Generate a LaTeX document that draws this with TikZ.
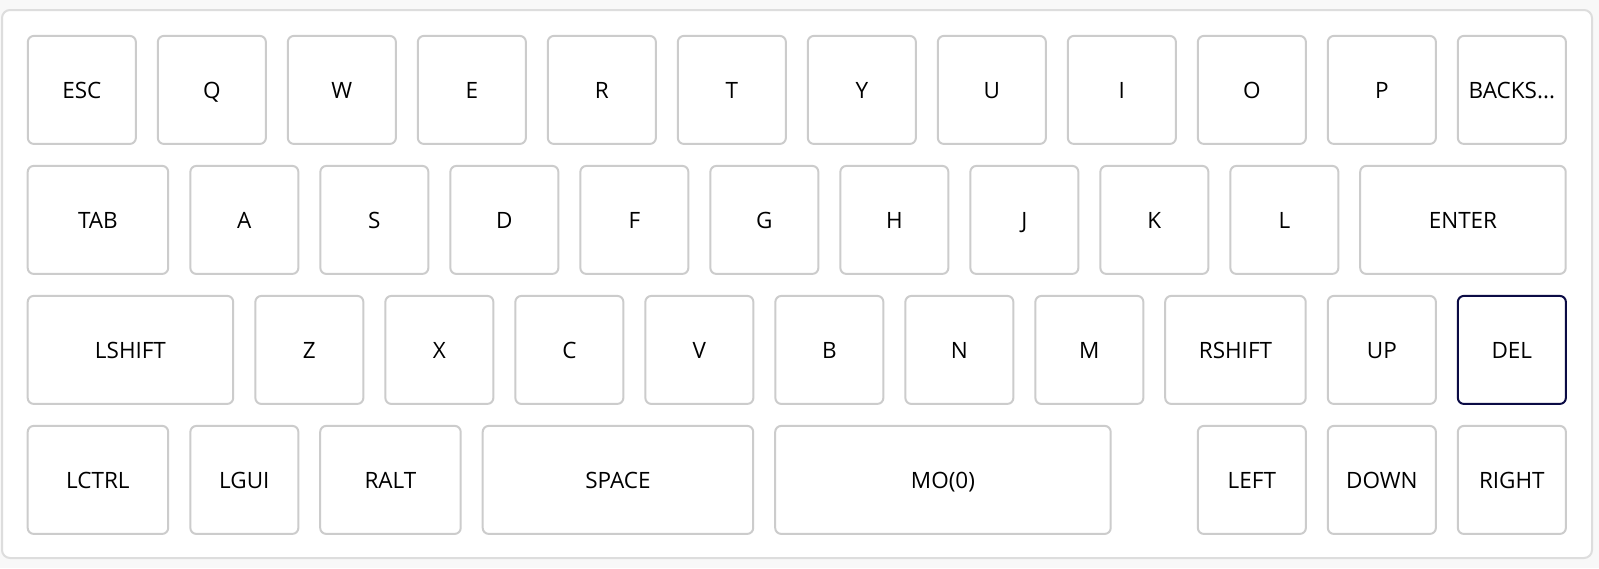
\documentclass[tikz,border=0pt]{standalone}
\usepackage{fontspec}
\setmainfont{Open Sans}
\definecolor{hgrau}{HTML}{F8F8F8}
\definecolor{rahmen}{HTML}{DDDDDD}
\definecolor{kante}{HTML}{CCCCCC}
\definecolor{aktiv}{HTML}{0B0B45}
\tikzset{
  taste/.style={draw=kante, line width=2pt, rounded corners=6pt, fill=white,
    minimum height=108pt, minimum width=108pt, inner sep=0pt,
    text height=16.5pt, text depth=-3pt,
    font=\fontsize{22.5}{26}\selectfont},
  breit/.style={minimum width=#1}
}
\begin{document}
\begin{tikzpicture}[x=1pt,y=-1pt]

% Hintergrund
\fill[hgrau] (0,0) rectangle (1599,568);
\useasboundingbox (0,0) rectangle (1599,568);
\draw[rahmen, fill=white, line width=2pt, rounded corners=8pt] (2,10) rectangle (1592,558);

%Reihe 1
\node[taste] (esc) at (81.85,89.9) {ESC};
\node[taste] (q) at (211.85,89.9) {Q};
\node[taste] (w) at (341.85,89.9) {W};
\node[taste] (e) at (471.85,89.9) {E};
\node[taste] (r) at (601.85,89.9) {R};
\node[taste] (t) at (731.85,89.9) {T};
\node[taste] (y) at (861.85,89.9) {Y};
\node[taste] (u) at (991.85,89.9) {U};
\node[taste] (i) at (1121.85,89.9) {I};
\node[taste] (o) at (1251.85,89.9) {O};
\node[taste] (p) at (1381.85,89.9) {P};
\node[taste] (bksp) at (1511.85,89.9) {BACKS...};

%Reihe 2
\node[taste, breit=140.5pt] (tab) at (97.95,219.9) {TAB};
\node[taste] (a) at (244.35,219.9) {A};
\node[taste] (s) at (374.35,219.9) {S};
\node[taste] (d) at (504.35,219.9) {D};
\node[taste] (f) at (634.35,219.9) {F};
\node[taste] (g) at (764.35,219.9) {G};
\node[taste] (h) at (894.35,219.9) {H};
\node[taste] (j) at (1024.35,219.9) {J};
\node[taste] (k) at (1154.35,219.9) {K};
\node[taste] (l) at (1284.35,219.9) {L};
\node[taste, breit=205.5pt] (enter) at (1462.95,219.9) {ENTER};

%Reihe 3
\node[taste, breit=205.5pt] (lshift) at (130.45,349.9) {LSHIFT};
\node[taste] (z) at (309.35,349.9) {Z};
\node[taste] (x) at (439.35,349.9) {X};
\node[taste] (c) at (569.35,349.9) {C};
\node[taste] (v) at (699.35,349.9) {V};
\node[taste] (b) at (829.35,349.9) {B};
\node[taste] (n) at (959.35,349.9) {N};
\node[taste] (m) at (1089.35,349.9) {M};
\node[taste, breit=140.5pt] (rshift) at (1235.45,349.9) {RSHIFT};
\node[taste] (up) at (1381.85,349.9) {UP};
\node[taste, draw=aktiv] (del) at (1511.85,349.9) {DEL};

%Reihe 4
\node[taste, breit=140.5pt] (lctrl) at (97.95,479.9) {LCTRL};
\node[taste] (lgui) at (244.35,479.9) {LGUI};
\node[taste, breit=140.5pt] (ralt) at (390.45,479.9) {RALT};
\node[taste, breit=270.5pt] (space) at (617.95,479.9) {SPACE};
\node[taste, breit=335.5pt] (mo) at (942.95,479.9) {MO(0)};
\node[taste] (left) at (1251.85,479.9) {LEFT};
\node[taste] (down) at (1381.85,479.9) {DOWN};
\node[taste] (right) at (1511.85,479.9) {RIGHT};

\end{tikzpicture}
\end{document}
